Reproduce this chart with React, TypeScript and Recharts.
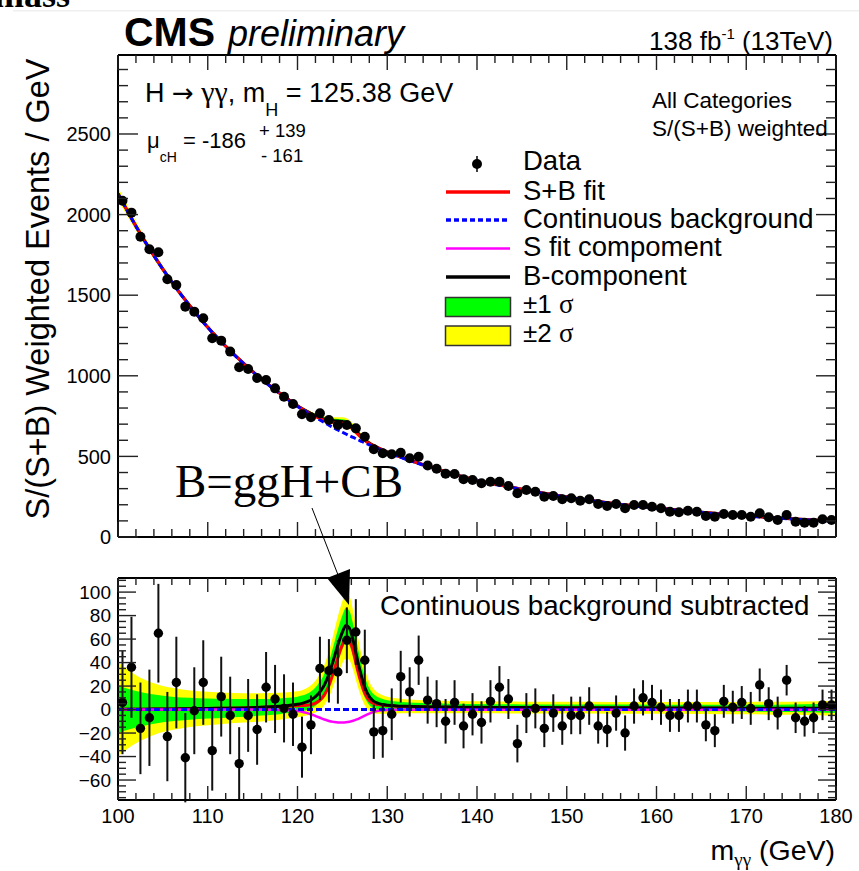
import React from "react";
import { ComposedChart, Line, Area, Scatter, ErrorBar, XAxis, YAxis } from "recharts";

const SANS = "'Liberation Sans', Arial, Helvetica, sans-serif";
const SERIF = "'Liberation Serif', 'Times New Roman', serif";

// ---- diphoton mass bins (1 GeV) ----
const binCenters = [
  100.5, 101.5, 102.5, 103.5, 104.5, 105.5, 106.5, 107.5, 108.5, 109.5,
  110.5, 111.5, 112.5, 113.5, 114.5, 115.5, 116.5, 117.5, 118.5, 119.5,
  120.5, 121.5, 122.5, 123.5, 124.5, 125.5, 126.5, 127.5, 128.5, 129.5,
  130.5, 131.5, 132.5, 133.5, 134.5, 135.5, 136.5, 137.5, 138.5, 139.5,
  140.5, 141.5, 142.5, 143.5, 144.5, 145.5, 146.5, 147.5, 148.5, 149.5,
  150.5, 151.5, 152.5, 153.5, 154.5, 155.5, 156.5, 157.5, 158.5, 159.5,
  160.5, 161.5, 162.5, 163.5, 164.5, 165.5, 166.5, 167.5, 168.5, 169.5,
  170.5, 171.5, 172.5, 173.5, 174.5, 175.5, 176.5, 177.5, 178.5, 179.5,
];

// S/(S+B) weighted events per GeV
const weightedEvents = [
  2086, 2012, 1863, 1785, 1766, 1599, 1563, 1429, 1398, 1357,
  1233, 1218, 1150, 1053, 1042, 986, 974, 922, 870, 825,
  761, 743, 767, 726, 695, 695, 674, 622, 544, 519,
  513, 523, 488, 498, 444, 423, 393, 391, 359, 354,
  333, 343, 343, 316, 271, 292, 281, 250, 254, 234,
  240, 225, 234, 205, 192, 205, 178, 198, 198, 188,
  178, 157, 153, 163, 157, 130, 126, 143, 136, 136,
  126, 147, 122, 105, 136, 95, 89, 89, 110, 105,
];

// data minus continuous background
const residuals = [
  6, 36, -16, -7, 65, -23, 23, -41, -1, 23,
  -35, 11, -5, -46, -5, -17, 19, 9, 1, -4,
  -32, -13, 35, 33, 32, 59, 66, 42, -19, -18,
  -4, 28, 15, 42, 8, 5, -10, 6, -14, -4,
  -11, 7, 19, 9, -29, -3, 1, -16, -3, -14,
  -5, -5, 3, -14, -17, -3, -20, 3, 10, 6,
  2, -5, -5, 3, 3, -13, -18, 7, 2, 6,
  1, 21, 5, -3, 25, -7, -10, -7, 4, 4,
];

const residualErrors = [
  44, 43, 39, 41, 42, 38, 39, 38, 37, 36,
  34, 34, 33, 31, 31, 30, 30, 29, 29, 27,
  26, 25, 27, 27, 27, 28, 28, 26, 23, 23,
  22, 22, 21, 21, 20, 20, 19, 19, 19, 18,
  18, 18, 18, 17, 16, 17, 17, 16, 16, 16,
  16, 16, 16, 15, 15, 15, 15, 15, 15, 15,
  15, 14, 14, 14, 14, 14, 14, 14, 14, 14,
  14, 14, 14, 14, 13, 13, 13, 13, 13, 13,
];

// ---- fit curves ----
const curveMass = [
  100, 102, 104, 106, 108, 110, 112, 114, 116, 118, 119, 120, 120.5, 121, 121.5,
  122, 122.5, 123, 123.5, 124, 124.5, 125, 125.4, 125.8, 126.2, 126.6, 127, 127.5,
  128, 128.5, 129, 129.5, 130, 131, 132, 134, 136, 138, 140, 145, 150, 155, 160,
  165, 170, 175, 178, 180,
];

const continuousBkg = [
  2130, 1928, 1745, 1581, 1434, 1300, 1182, 1075, 978, 890, 849, 810, 792, 775, 758,
  742, 726, 710, 694, 679, 664, 650, 639, 628, 618, 607, 597, 584,
  572, 560, 548, 536, 525, 504, 484, 446, 411, 379, 350, 295, 247, 208, 178,
  152, 130, 112, 103, 98,
];

// B-component (ggH + CB) after continuous background subtraction
const bComponent = [
  0.2, 0.3, 0.4, 0.5, 0.7, 0.9, 1.1, 1.4, 1.9, 2.8, 3.5, 4.5, 5.3, 6.5, 8.2,
  11, 15, 21, 30, 42, 55, 66, 71.5, 69, 59, 45, 32, 19,
  11, 7, 5.2, 4.3, 3.7, 3.1, 2.8, 2.4, 2.2, 2, 1.9, 1.7, 1.6, 1.5, 1.4,
  1.3, 1.2, 1.1, 1.1, 1,
];

// signal fit component
const sFitComponent = [
  0, 0, 0, 0, 0, 0, 0, 0, 0, -0.3, -0.6, -1.2, -1.8, -2.8, -4,
  -5.5, -7, -8.5, -9.7, -10.5, -11, -11, -10.8, -10.3, -9.5, -8.4, -7, -5.2,
  -3.4, -2, -1, -0.5, -0.3, -0.2, -0.2, -0.2, -0.2, -0.2, -0.2, -0.2, -0.2, -0.2, -0.2,
  -0.2, -0.2, -0.2, -0.2, -0.2,
];

// S+B fit after continuous background subtraction
const sbFit = [
  0.2, 0.3, 0.4, 0.5, 0.7, 0.9, 1.1, 1.4, 1.9, 2.5, 2.9, 3.3, 3.5, 3.7, 4.2,
  5.5, 8, 12.5, 20.3, 31.5, 44, 55, 60.7, 58.7, 49.5, 36.6, 25, 13.8,
  7.6, 5, 4.2, 3.8, 3.4, 2.9, 2.6, 2.2, 2, 1.8, 1.7, 1.5, 1.4, 1.3, 1.2,
  1.1, 1, 0.9, 0.9, 0.8,
];

// half widths of the uncertainty bands
const sigma1 = [
  20, 15.5, 12.5, 10.5, 9.3, 8.5, 8, 7.5, 7, 6.7, 6.5, 6.5, 6.6, 6.8, 7.2,
  7.8, 8.6, 9.6, 10.8, 12, 13.2, 14.3, 15, 14.6, 13.6, 12.2, 10.6, 8.8,
  7.2, 6, 5.2, 4.6, 4.2, 3.8, 3.5, 3.2, 3, 2.9, 2.8, 2.7, 2.7, 2.7, 2.7,
  2.8, 2.9, 3.2, 3.6, 4,
];
const sigma2 = [
  40, 29, 22, 18, 15.5, 14.2, 13.2, 12.5, 12, 11.5, 11.2, 11, 11.2, 11.6, 12.4,
  13.6, 15.2, 17.2, 19.6, 22, 24.4, 26.5, 28, 27.2, 25.2, 22.4, 19.2, 15.6,
  12.6, 10.4, 8.8, 7.8, 7.2, 6.5, 6, 5.6, 5.4, 5.2, 5.1, 5, 5, 5, 5,
  5.1, 5.3, 5.6, 6, 6.5,
];

// ---- axis ticks ----
const massTicks = [
  100, 102, 104, 106, 108, 110, 112, 114, 116, 118, 120, 122, 124, 126, 128, 130,
  132, 134, 136, 138, 140, 142, 144, 146, 148, 150, 152, 154, 156, 158, 160, 162,
  164, 166, 168, 170, 172, 174, 176, 178, 180,
];
const eventTicks = [
  0, 100, 200, 300, 400, 500, 600, 700, 800, 900, 1000, 1100, 1200, 1300, 1400,
  1500, 1600, 1700, 1800, 1900, 2000, 2100, 2200, 2300, 2400, 2500, 2600, 2700,
  2800, 2900,
];
const residualTicks = [
  -75, -70, -65, -60, -55, -50, -45, -40, -35, -30, -25, -20, -15, -10, -5, 0,
  5, 10, 15, 20, 25, 30, 35, 40, 45, 50, 55, 60, 65, 70, 75, 80, 85, 90, 95, 100,
  105, 110,
];

const legendLabels = ["Data", "S+B fit", "Continuous background", "S fit compoment", "B-component", "\u00b11 ", "\u00b12 "];

// ---- tables for the chart ----
const pointRows = binCenters.map((x, i) => ({
  x,
  events: weightedEvents[i],
  resid: residuals[i],
  err: residualErrors[i],
}));

const curveRows = curveMass.map((x, i) => {
  const cb = continuousBkg[i];
  const b = bComponent[i];
  return {
    x,
    cbTop: cb,
    sbTop: cb + sbFit[i],
    bTop: cb + b,
    g1Top: [cb + b - sigma1[i], cb + b + sigma1[i]],
    y2Top: [cb + b - sigma2[i], cb + b + sigma2[i]],
    zero: 0,
    sb: sbFit[i],
    b,
    s: sFitComponent[i],
    g1: [b - sigma1[i], b + sigma1[i]],
    y2: [b - sigma2[i], b + sigma2[i]],
  };
});

// ---- styling helpers ----
const W = 859;
const X_DOMAIN: [number, number] = [100, 180];
const frame = { stroke: "#000", strokeWidth: 2 };
const tickStroke = { stroke: "#222", strokeWidth: 1.4 };
const RED = "#ff0000";
const BLUE = "#0000ff";
const MAGENTA = "#ff00ff";
const GREEN = "#00ff00";
const YELLOW = "#ffff00";

const fmt = (v: number) => (v < 0 ? `\u2212${-v}` : `${v}`);

function massTickBottom(showLabel: boolean, majorLen: number, minorLen: number) {
  return (p: any) => {
    const v = p.payload.value;
    const major = v % 10 === 0;
    return (
      <g>
        <line x1={p.x} x2={p.x} y1={p.y} y2={p.y - (major ? majorLen : minorLen)} {...tickStroke} />
        {showLabel && major ? (
          <text x={p.x} y={p.y + 23} textAnchor="middle" fontFamily={SANS} fontSize={20} fill="#000">
            {v}
          </text>
        ) : null}
      </g>
    );
  };
}

function massTickTop(majorLen: number, minorLen: number) {
  return (p: any) => {
    const v = p.payload.value;
    const major = v % 10 === 0;
    return <line x1={p.x} x2={p.x} y1={p.y} y2={p.y + (major ? majorLen : minorLen)} {...tickStroke} />;
  };
}

function valueTickLeft(step: number, fontSize: number, majorLen: number, minorLen: number) {
  return (p: any) => {
    const v = p.payload.value;
    const major = v % step === 0;
    return (
      <g>
        <line x1={p.x} x2={p.x + (major ? majorLen : minorLen)} y1={p.y} y2={p.y} {...tickStroke} />
        {major ? (
          <text x={p.x - 7} y={p.y} dy="0.36em" textAnchor="end" fontFamily={SANS} fontSize={fontSize} fill="#000">
            {fmt(v)}
          </text>
        ) : null}
      </g>
    );
  };
}

function valueTickRight(step: number, majorLen: number, minorLen: number) {
  return (p: any) => {
    const v = p.payload.value;
    const major = v % step === 0;
    return <line x1={p.x} x2={p.x - (major ? majorLen : minorLen)} y1={p.y} y2={p.y} {...tickStroke} />;
  };
}

const dataDot = (r: number) => (p: any) => <circle cx={p.cx} cy={p.cy} r={r} fill="#000" />;

function TopPanel() {
  return (
    <ComposedChart width={W} height={560} data={curveRows} margin={{ top: 0, right: 0, bottom: 0, left: 0 }}>
      <XAxis dataKey="x" type="number" domain={X_DOMAIN} allowDataOverflow ticks={massTicks} interval={0}
        tickLine={false} tickSize={0} tickMargin={0} height={23} axisLine={frame}
        tick={massTickBottom(false, 15, 8)} />
      <XAxis xAxisId="top" orientation="top" dataKey="x" type="number" domain={X_DOMAIN} allowDataOverflow
        ticks={massTicks} interval={0} tickLine={false} tickSize={0} tickMargin={0} height={55}
        axisLine={frame} tick={massTickTop(15, 8)} />
      <YAxis type="number" domain={[0, 2990]} allowDataOverflow ticks={eventTicks} interval={0}
        tickLine={false} tickSize={0} tickMargin={0} width={118} axisLine={frame}
        tick={valueTickLeft(500, 20, 20, 10)} />
      <YAxis yAxisId="right" orientation="right" type="number" domain={[0, 2990]} allowDataOverflow
        ticks={eventTicks} interval={0} tickLine={false} tickSize={0} tickMargin={0} width={23}
        axisLine={frame} tick={valueTickRight(500, 20, 10)} />
      <Area dataKey="y2Top" type="monotone" stroke="none" fill={YELLOW} fillOpacity={1} isAnimationActive={false} />
      <Area dataKey="g1Top" type="monotone" stroke="none" fill={GREEN} fillOpacity={1} isAnimationActive={false} />
      <Line dataKey="bTop" type="monotone" stroke="#000" strokeWidth={3} dot={false} activeDot={false} isAnimationActive={false} />
      <Line dataKey="sbTop" type="monotone" stroke={RED} strokeWidth={3} dot={false} activeDot={false} isAnimationActive={false} />
      <Line dataKey="cbTop" type="monotone" stroke={BLUE} strokeWidth={3} strokeDasharray="6 3" dot={false} activeDot={false} isAnimationActive={false} />
      <Scatter data={pointRows} dataKey="events" shape={dataDot(5)} isAnimationActive={false} />
    </ComposedChart>
  );
}

function BottomPanel() {
  return (
    <ComposedChart width={W} height={311} data={curveRows} margin={{ top: 0, right: 0, bottom: 0, left: 0 }}>
      <XAxis dataKey="x" type="number" domain={X_DOMAIN} allowDataOverflow ticks={massTicks} interval={0}
        tickLine={false} tickSize={0} tickMargin={0} height={71} axisLine={frame}
        tick={massTickBottom(true, 14, 7)} />
      <XAxis xAxisId="top" orientation="top" dataKey="x" type="number" domain={X_DOMAIN} allowDataOverflow
        ticks={massTicks} interval={0} tickLine={false} tickSize={0} tickMargin={0} height={18}
        axisLine={frame} tick={massTickTop(14, 7)} />
      <YAxis type="number" domain={[-77, 112]} allowDataOverflow ticks={residualTicks} interval={0}
        tickLine={false} tickSize={0} tickMargin={0} width={118} axisLine={frame}
        tick={valueTickLeft(20, 19, 18, 8)} />
      <YAxis yAxisId="right" orientation="right" type="number" domain={[-77, 112]} allowDataOverflow
        ticks={residualTicks} interval={0} tickLine={false} tickSize={0} tickMargin={0} width={23}
        axisLine={frame} tick={valueTickRight(20, 18, 8)} />
      <Area dataKey="y2" type="monotone" stroke="none" fill={YELLOW} fillOpacity={1} isAnimationActive={false} />
      <Area dataKey="g1" type="monotone" stroke="none" fill={GREEN} fillOpacity={1} isAnimationActive={false} />
      <Line dataKey="sb" type="monotone" stroke={RED} strokeWidth={3} dot={false} activeDot={false} isAnimationActive={false} />
      <Line dataKey="b" type="monotone" stroke="#000" strokeWidth={3} dot={false} activeDot={false} isAnimationActive={false} />
      <Line dataKey="s" type="monotone" stroke={MAGENTA} strokeWidth={2.5} dot={false} activeDot={false} isAnimationActive={false} />
      <Line dataKey="zero" type="linear" stroke={BLUE} strokeWidth={3} strokeDasharray="6 3" dot={false} activeDot={false} isAnimationActive={false} />
      <Scatter data={pointRows} dataKey="resid" shape={dataDot(4.7)} isAnimationActive={false}>
        <ErrorBar dataKey="err" direction="y" width={0} stroke="#111" strokeWidth={2} />
      </Scatter>
    </ComposedChart>
  );
}

function Annotations() {
  const baselines = [170, 199.5, 227.5, 256, 284.5, 313, 341.5];
  const lx1 = 446;
  const lx2 = 510;
  const tx = 523;
  return (
    <svg width={W} height={871} style={{ position: "absolute", left: 0, top: 0, pointerEvents: "none" }}>
      <rect x={13} y={10} width={846} height={1.5} fill="#efefef" />
      <text x={-6} y={7} fontFamily={SERIF} fontWeight="bold" fontSize={36} fill="#000">mass</text>

      <text x={124} y={46} fontFamily={SANS} fontWeight="bold" fontSize={41} fill="#000">CMS</text>
      <text x={228} y={46} fontFamily={SANS} fontStyle="italic" fontSize={36} fill="#000">preliminary</text>
      <text x={833} y={50} textAnchor="end" fontFamily={SANS} fontSize={26} fill="#000">
        138 fb<tspan dy={-11} fontSize={15}>-1</tspan>
        <tspan dy={11}> (13TeV)</tspan>
      </text>

      <text x={145} y={102} fontFamily={SANS} fontSize={27} fill="#000">
        H <tspan fontFamily="'DejaVu Sans', sans-serif" fontSize={26}>{"\u2192"}</tspan>{" "}
        <tspan fontFamily={SERIF} fontSize={30}>{"\u03b3\u03b3"}</tspan>, m
        <tspan dy={14} fontSize={18}>H</tspan>
        <tspan dy={-14}> = 125.38 GeV</tspan>
      </text>
      <text x={147} y={148} fontFamily={SANS} fontSize={22} fill="#000">
        {"\u03bc"}<tspan dy={14} fontSize={14}>cH</tspan>
        <tspan dy={-14}> = -186</tspan>
      </text>
      <text x={259} y={137} fontFamily={SANS} fontSize={18.5} fill="#000">+ 139</text>
      <text x={261} y={162} fontFamily={SANS} fontSize={18.5} fill="#000">- 161</text>

      <text x={652} y={108} fontFamily={SANS} fontSize={22.5} fill="#000">All Categories</text>
      <text x={652} y={136} fontFamily={SANS} fontSize={22.5} fill="#000">S/(S+B) weighted</text>

      {/* legend */}
      <circle cx={477} cy={baselines[0] - 6} r={5} fill="#000" />
      <line x1={477} x2={477} y1={baselines[0] - 14} y2={baselines[0] + 2} stroke="#000" strokeWidth={1.5} />
      <line x1={lx1} x2={lx2} y1={baselines[1] - 7.5} y2={baselines[1] - 7.5} stroke={RED} strokeWidth={3.5} />
      <line x1={lx1} x2={lx2} y1={baselines[2] - 7.5} y2={baselines[2] - 7.5} stroke={BLUE} strokeWidth={3.5} strokeDasharray="5 3" />
      <line x1={lx1} x2={lx2} y1={baselines[3] - 7.5} y2={baselines[3] - 7.5} stroke={MAGENTA} strokeWidth={2.5} />
      <line x1={lx1} x2={lx2} y1={baselines[4] - 7.5} y2={baselines[4] - 7.5} stroke="#000" strokeWidth={3.5} />
      <rect x={445.5} y={297.5} width={65} height={19} fill={GREEN} stroke="#333" strokeWidth={1.5} />
      <rect x={445.5} y={326} width={65} height={19.5} fill={YELLOW} stroke="#333" strokeWidth={1.5} />
      {legendLabels.map((label, i) => (
        <text key={label} x={tx} y={baselines[i]} fontFamily={SANS} fontSize={i >= 5 ? 26 : 27.5} fill="#000">
          {label}
          {i >= 5 ? <tspan fontFamily={SERIF} fontSize={27}>{"\u03c3"}</tspan> : null}
        </text>
      ))}

      <text transform="translate(49,289) rotate(-90)" textAnchor="middle" fontFamily={SANS} fontSize={32.5} fill="#000">
        S/(S+B) Weighted Events / GeV
      </text>

      <text x={175} y={497} fontFamily={SERIF} fontSize={47} fill="#000">B=ggH+CB</text>
      <line x1={312} y1={508} x2={340} y2={580} stroke="#000" strokeWidth={1} />
      <polygon points="327,578 350,569 349,605" fill="#000" />

      <text x={380} y={615} fontFamily={SANS} fontSize={27.7} fill="#000">Continuous background subtracted</text>

      <text x={835} y={860} textAnchor="end" fontFamily={SANS} fontSize={28.5} fill="#000">
        m<tspan dy={6} fontSize={19} fontFamily={SERIF}>{"\u03b3\u03b3"}</tspan>
        <tspan dy={-6}> (GeV)</tspan>
      </text>
    </svg>
  );
}

export default function App() {
  return (
    <div style={{ position: "absolute", left: 0, top: 0, width: W, height: 871, background: "#fff", overflow: "hidden" }}>
      <div style={{ position: "absolute", left: 0, top: 0 }}>
        <TopPanel />
      </div>
      <div style={{ position: "absolute", left: 0, top: 560 }}>
        <BottomPanel />
      </div>
      <Annotations />
    </div>
  );
}
